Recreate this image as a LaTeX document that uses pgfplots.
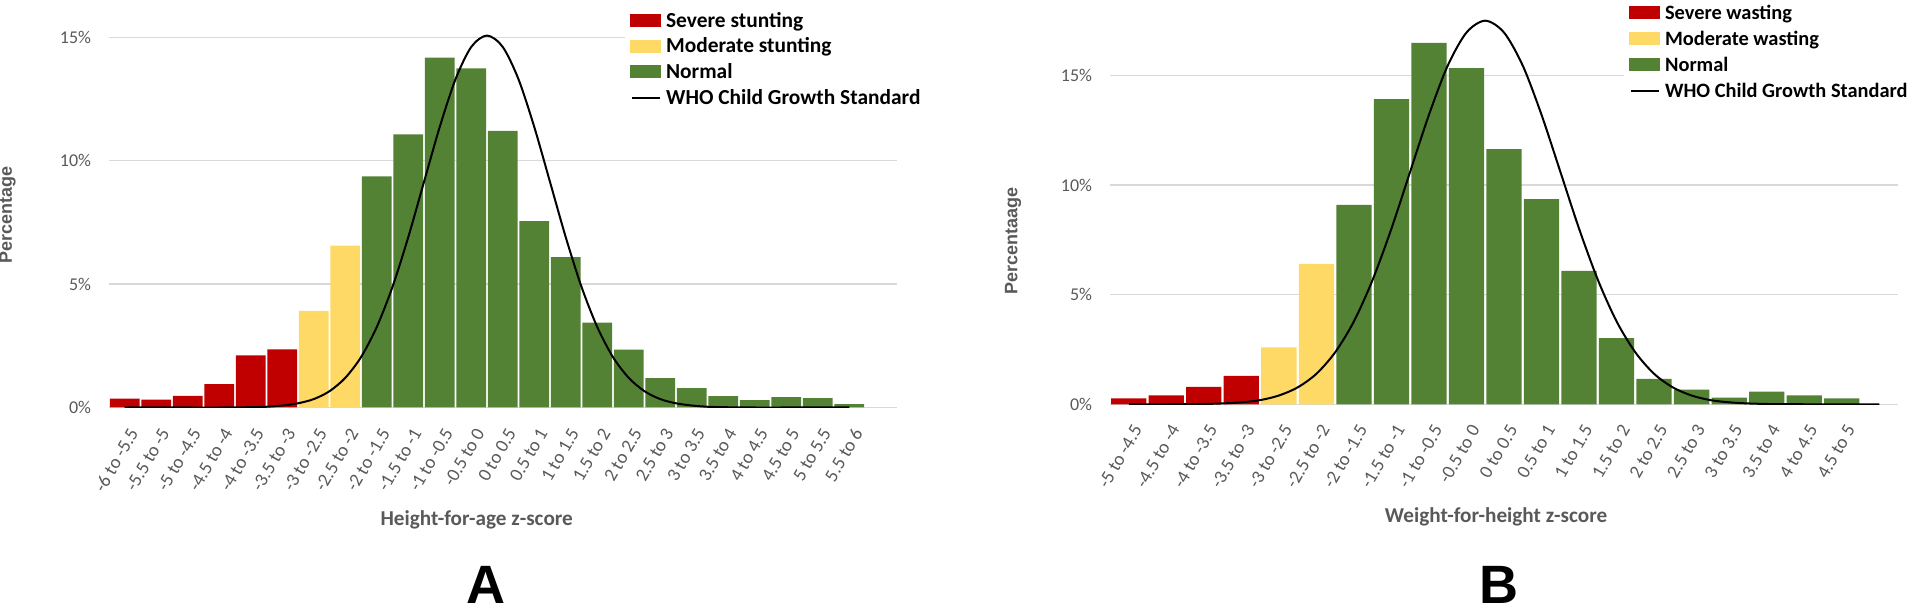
\documentclass[border=0pt]{standalone}
\usepackage{pgfplots}
\pgfplotsset{compat=1.18}
\usepackage{fontspec}
\setmainfont{Carlito}
\newfontfamily\arialfont{Liberation Sans}
\definecolor{sev}{HTML}{C00000}
\definecolor{mod}{HTML}{FFD966}
\definecolor{nor}{HTML}{548235}
\definecolor{gridc}{HTML}{D9D9D9}
\definecolor{txt}{HTML}{595959}
\pgfplotsset{
  zchart/.style={
    scale only axis, anchor=south west,
    ybar, bar width=0.94, bar shift=0pt,
    ymin=0, axis line style={draw=none}, major tick length=0pt,
    ymajorgrids, grid style={gridc, line width=0.75pt},
    ytick={0,5,10,15}, yticklabels={0\%,5\%,10\%,15\%},
    yticklabel style={font=\fontsize{9}{10}\selectfont, text=txt, inner sep=0pt, anchor=east, xshift=-8.8pt},
    xticklabel style={font=\fontsize{9.4}{10}\selectfont, text=txt, inner sep=0pt, xshift=4.5pt, yshift=-11pt, rotate=60, anchor=east},
    ylabel style={font=\arialfont\bfseries\fontsize{9}{10}\selectfont, text=txt, anchor=center},
    xlabel style={font=\bfseries\fontsize{10.6}{12}\selectfont, text=txt, anchor=center},
    legend style={draw=none, fill=white, inner xsep=2.5pt, inner ysep=0pt, nodes={inner sep=0pt},
      column sep=2.35pt, anchor=north west, xshift=-2.5pt},
    legend cell align=left,
    area legend,
    legend image code/.code={\fill[##1] (0pt,-3.25pt) rectangle (15.5pt,3.25pt);},
  },
  wholine/.style={black, line width=1pt, smooth, mark=none,
    legend image code/.code={\draw[black, line width=1pt] (0.75pt,0pt) -- (14.75pt,0pt);}},
}
\begin{document}
\begin{tikzpicture}
\path[use as bounding box] (0,0) rectangle (959.5pt,308pt);
% ---------------- Panel A ----------------
\begin{axis}[zchart,
  at={(54.5pt,104.25pt)}, width=393.75pt, height=192.5pt,
  xmin=-0.5, xmax=24.5, ymax=15.6,
  xtick={0,...,23},
  xticklabels={-6 to -5.5,-5.5 to -5,-5 to -4.5,-4.5 to -4,-4 to -3.5,-3.5 to -3,-3 to -2.5,-2.5 to -2,-2 to -1.5,-1.5 to -1,-1 to -0.5,-0.5 to 0,0 to 0.5,0.5 to 1,1 to 1.5,1.5 to 2,2 to 2.5,2.5 to 3,3 to 3.5,3.5 to 4,4 to 4.5,4.5 to 5,5 to 5.5,5.5 to 6},
  xlabel={Height-for-age z-score},
  xlabel style={at={(axis description cs:0.467,-0.292)}},
  ylabel={Percentage},
  ylabel style={at={(axis description cs:-0.1289,0.5)}},
  legend style={at={(axis description cs:0.6616,1.0325)}, font=\bfseries\fontsize{10.7}{12}\selectfont, row sep=3pt},
]
\addplot[fill=sev, draw=none] coordinates {(0,0.36) (1,0.32) (2,0.47) (3,0.95) (4,2.11) (5,2.36)};
\addlegendentry{\strut Severe stunting}
\addplot[fill=mod, draw=none] coordinates {(6,3.92) (7,6.56)};
\addlegendentry{\strut Moderate stunting}
\addplot[fill=nor, draw=none] coordinates {(8,9.37) (9,11.07) (10,14.18) (11,13.74) (12,11.21) (13,7.55) (14,6.09) (15,3.44) (16,2.34) (17,1.19) (18,0.78) (19,0.46) (20,0.30) (21,0.42) (22,0.38) (23,0.14)};
\addlegendentry{\strut Normal}
\addplot[wholine] coordinates {
 (0,0) (1,0) (2,0) (3,0) (3.5,0.005) (4,0.013) (4.5,0.03) (5,0.08) (5.5,0.17) (6,0.34) (6.5,0.66)
 (7,1.20) (7.5,2.04) (8,3.26) (8.5,4.89) (9,6.90) (9.5,9.14) (10,11.37) (10.5,13.30) (11,14.61)
 (11.5,15.07)
 (12,14.61) (12.5,13.30) (13,11.37) (13.5,9.14) (14,6.90) (14.5,4.89) (15,3.26) (15.5,2.04) (16,1.20)
 (16.5,0.66) (17,0.34) (17.5,0.17) (18,0.08) (18.5,0.03) (19,0.013) (19.5,0.005) (20,0) (21,0) (22,0) (23,0)};
\addlegendentry{\strut WHO Child Growth Standard}
\end{axis}
% ---------------- Panel B ----------------
\begin{axis}[zchart,
  at={(555pt,105.85pt)}, width=394pt, height=197.4pt,
  xmin=-0.5, xmax=20.5, ymax=18,
  xtick={0,...,19},
  xticklabels={-5 to -4.5,-4.5 to -4,-4 to -3.5,-3.5 to -3,-3 to -2.5,-2.5 to -2,-2 to -1.5,-1.5 to -1,-1 to -0.5,-0.5 to 0,0 to 0.5,0.5 to 1,1 to 1.5,1.5 to 2,2 to 2.5,2.5 to 3,3 to 3.5,3.5 to 4,4 to 4.5,4.5 to 5},
  xlabel={Weight-for-height z-score},
  xlabel style={at={(axis description cs:0.49,-0.2855)}},
  ylabel={Percentaage},
  ylabel style={at={(axis description cs:-0.123,0.414)}},
  legend style={at={(axis description cs:0.6586,1.0175)}, font=\bfseries\fontsize{10.2}{12}\selectfont, row sep=3.05pt},
]
\addplot[fill=sev, draw=none] coordinates {(0,0.27) (1,0.41) (2,0.79) (3,1.30)};
\addlegendentry{\strut Severe wasting}
\addplot[fill=mod, draw=none] coordinates {(4,2.59) (5,6.40)};
\addlegendentry{\strut Moderate wasting}
\addplot[fill=nor, draw=none] coordinates {(6,9.09) (7,13.91) (8,16.48) (9,15.33) (10,11.63) (11,9.36) (12,6.08) (13,3.02) (14,1.16) (15,0.67) (16,0.30) (17,0.58) (18,0.41) (19,0.27)};
\addlegendentry{\strut Normal}
\addplot[wholine] coordinates {
 (0,0) (0.5,0) (1,0.002) (1.5,0.006) (2,0.015) (2.5,0.04) (3,0.09) (3.5,0.19) (4,0.40) (4.5,0.77)
 (5,1.39) (5.5,2.37) (6,3.78) (6.5,5.68) (7,8.01) (7.5,10.61) (8,13.20) (8.5,15.44) (9,16.95)
 (9.5,17.49)
 (10,16.95) (10.5,15.44) (11,13.20) (11.5,10.61) (12,8.01) (12.5,5.68) (13,3.78) (13.5,2.37) (14,1.39)
 (14.5,0.77) (15,0.40) (15.5,0.19) (16,0.09) (16.5,0.04) (17,0.015) (17.5,0.006) (18,0.002) (18.5,0) (19,0) (20,0)};
\addlegendentry{\strut WHO Child Growth Standard}
\end{axis}
\node[font=\arialfont\bfseries\fontsize{27}{30}\selectfont, anchor=base, inner sep=0pt] at (243pt,6pt) {A};
\node[font=\arialfont\bfseries\fontsize{27}{30}\selectfont, anchor=base, inner sep=0pt] at (749.5pt,6pt) {B};
\end{tikzpicture}
\end{document}
